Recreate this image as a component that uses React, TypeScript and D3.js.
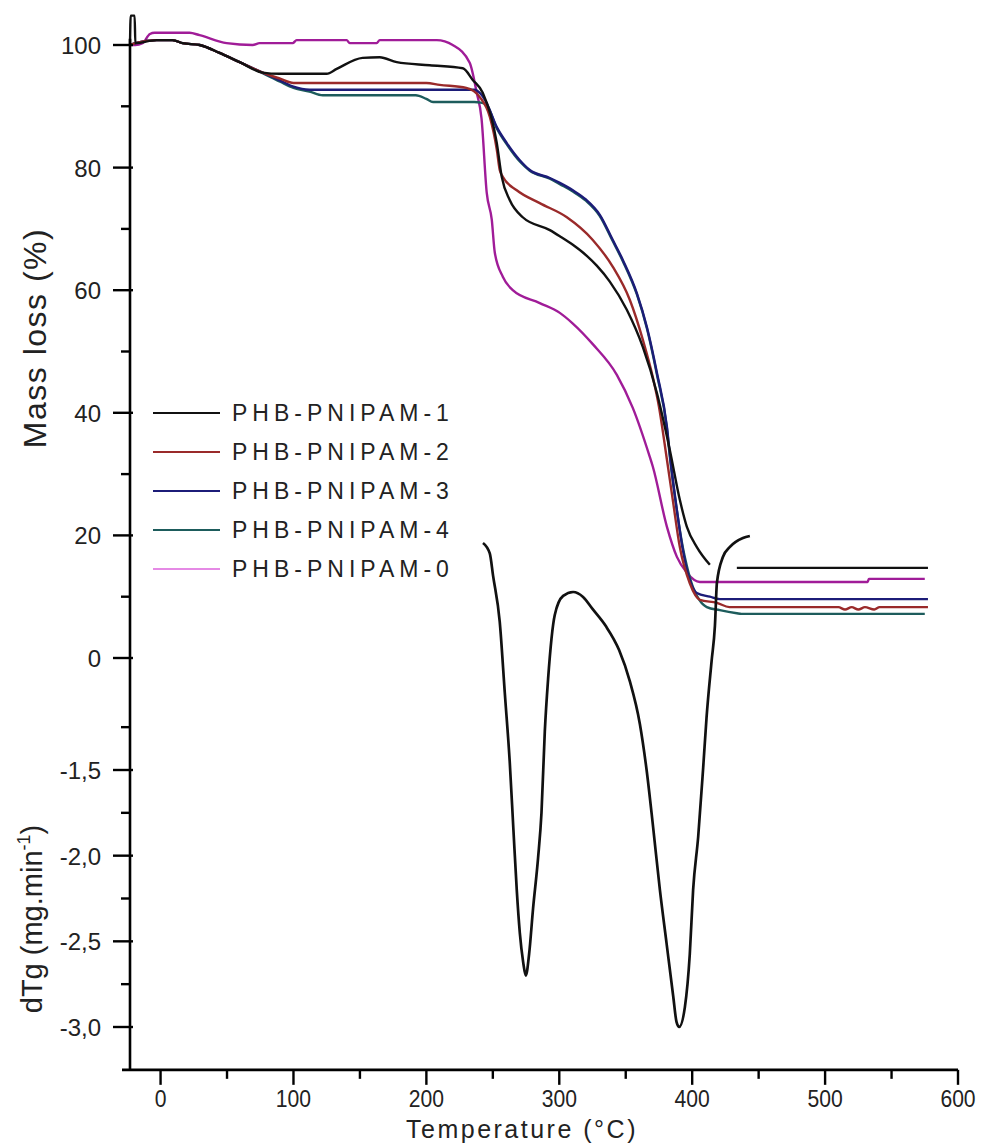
import React from "react";
import * as d3 from "d3";

// TG curves, [temperature °C, mass %]
const tgP1: ([number, number] | null)[] = [
  [-23, 100], [-22.5, 104.8], [-19.5, 104.8], [-19, 100.3], [-3, 100.8], [9, 100.8], [16.6, 100.3],
  [29.4, 100], [44.4, 98.7], [59.5, 97.2], [76.8, 95.5], [89.6, 95.3], [125, 95.3], [132.5, 96.1],
  [152, 97.9], [164.9, 98], [177.7, 97.2], [202.5, 96.7], [227.4, 96.2], [234.9, 94.3], [242.4, 92.2],
  [253, 84], [256.7, 78.5], [262.7, 74.7], [272.5, 71.9], [292.9, 69.8], [300.4, 68.8], [310.2, 67.4],
  [320.7, 65.6], [328.2, 64.0], [338, 61.4], [350.8, 56.8], [362.9, 50.7], [373.5, 43.2], [383.2, 33.9],
  [390.7, 25.8], [396, 21.4], [403.5, 18.1], [413.3, 15.2],
  null,
  [433.6, 14.7], [577.4, 14.7],
];
const tgP2: [number, number][] = [
  [-23, 100], [-19, 100.3], [-3, 100.8], [9, 100.8], [16.6, 100.3], [29.4, 100], [44.4, 98.7],
  [59.5, 97.2], [76.8, 95.5], [90, 94.5], [100, 93.8], [200, 93.8], [210, 93.5], [230, 93.0],
  [240.2, 91.5], [247.7, 88.3], [253, 82.9], [255.2, 79.6], [257.5, 78.5], [268, 76.3], [285.3, 74.2],
  [305.7, 71.9], [325.2, 68.2], [340.3, 63.8], [353.1, 58.4], [362.9, 51.9], [370.4, 45.8], [375, 41],
  [380.9, 32.5], [385.4, 25.8], [390.7, 18.1], [398.2, 12.2], [405.8, 9.5], [418.6, 9.0], [428, 8.3],
  [510, 8.3], [515, 7.9], [520, 8.3], [525, 7.9], [530, 8.3], [537, 7.9], [541, 8.3], [577.4, 8.3],
];
const tgP3: [number, number][] = [
  [-23, 100], [-19, 100.3], [-3, 100.8], [9, 100.8], [16.6, 100.3], [29.4, 100], [44.4, 98.7],
  [59.5, 97.2], [76.8, 95.5], [90, 94.2], [100, 93.2], [112, 92.7], [236, 92.7], [241, 92.0],
  [245.4, 90.5], [253, 86.6], [260.5, 84.0], [270.3, 81.2], [277.8, 79.6], [292.9, 78.3], [300.4, 77.5],
  [310.2, 76.3], [320, 74.8], [330.5, 72.3], [340, 68.3], [347.9, 64.9], [358.4, 59.5], [365.9, 54.0],
  [373.5, 46.5], [381, 37.7], [383.2, 33.2], [388.5, 24.1], [393, 17.6], [398.2, 12.7], [403.5, 10.6],
  [413.3, 10.0], [420.8, 9.6], [577.4, 9.6],
];
const tgP4: [number, number][] = [
  [-23, 100], [-19, 100.3], [-3, 100.8], [9, 100.8], [16.6, 100.3], [29.4, 100], [44.4, 98.7],
  [59.5, 97.2], [76.8, 95.4], [90, 94.0], [100, 93.0], [112, 92.4], [122, 91.8], [192, 91.8],
  [200, 91.2], [205, 90.7], [236, 90.7], [241, 90.6], [245.4, 90.2], [253, 86.4], [260.5, 83.8],
  [270.3, 81.0], [277.8, 79.5], [292.9, 78.2], [300.4, 77.3], [310.2, 76.1], [320, 74.6], [330.5, 72.1],
  [340, 68.1], [347.9, 64.7], [358.4, 59.3], [365.9, 53.8], [373.5, 46.2], [381, 37.4], [383.2, 32.8],
  [388.5, 24], [393, 18], [396, 15], [400.5, 11.6], [405, 9.6], [411, 8.3], [420.8, 7.8], [433.6, 7.3],
  [437, 7.2], [575, 7.2],
];
const tgP0: [number, number][] = [
  [-23, 100], [-19, 100], [-13.6, 100.3], [-8, 101.8], [-4.5, 102], [21.8, 102], [29.4, 101.6],
  [49.7, 100.3], [69.3, 100], [74.5, 100.3], [99.4, 100.3], [102.4, 100.8], [140, 100.8], [142.3, 100.3],
  [162.6, 100.3], [164.9, 100.8], [207.8, 100.8], [219.8, 100], [232.6, 97.1], [237.9, 92.2],
  [241.5, 88], [245.4, 75.9], [249.2, 71.5], [251.5, 66.1], [257.5, 62.2], [265, 60], [285.3, 57.9],
  [300.4, 56.3], [310, 54.6], [325.2, 51.2], [343.3, 46.2], [355.3, 40.8], [368.1, 32.8],
  [370.4, 31.2], [381, 21.4], [388.5, 16.5], [396, 13.9], [405.8, 12.4], [532, 12.4], [533, 12.9],
  [575, 12.9],
];

// DTG curve, [temperature °C, mg/min]
const dtg: [number, number][] = [
  [242.6, -0.175], [247.7, -0.236], [250.2, -0.367], [255.2, -0.636], [259.0, -1.05], [262.7, -1.45],
  [265.5, -1.85], [268, -2.2], [270.3, -2.45], [272.8, -2.62], [274.8, -2.7],
  [277.3, -2.574], [280.3, -2.306], [284.0, -2.017], [286.6, -1.751], [289.1, -1.276], [291.6, -0.967],
  [296.6, -0.595], [302.9, -0.484], [310.4, -0.461], [317.9, -0.49], [325, -0.56], [335, -0.66],
  [345, -0.8], [353, -0.98], [360.6, -1.23], [365.7, -1.5], [370.6, -1.833], [375.7, -2.2], [380.7, -2.51],
  [385.7, -2.819], [388.2, -2.97], [390.2, -3.0], [394.5, -2.884], [398.2, -2.574], [400.7, -2.2],
  [404.5, -1.891], [408.3, -1.483], [410.8, -1.194], [414.6, -0.864], [417.1, -0.659], [418.6, -0.408],
  [423.1, -0.257], [428.4, -0.198], [438.2, -0.146], [443.4, -0.134],
];

const seriesNames = ["PHB-PNIPAM-1", "PHB-PNIPAM-2", "PHB-PNIPAM-3", "PHB-PNIPAM-4", "PHB-PNIPAM-0"];
const seriesColors = ["#111111", "#9a2a2a", "#1c1c78", "#1d5c5c", "#a01c98"];
const legendColors = ["#111111", "#9a2a2a", "#1c1c78", "#1d5c5c", "#e58ae5"];

const xTicks = [0, 100, 200, 300, 400, 500, 600];
const xMinor = [50, 150, 250, 350, 450, 550];
const massTicks = [0, 20, 40, 60, 80, 100];
const massMinor = [10, 30, 50, 70, 90];
const dtgTicks = [-1.5, -2.0, -2.5, -3.0];
const dtgMinor = [-1.25, -1.75, -2.25, -2.75];

const W = 982, H = 1144;
const font = "'Liberation Sans', Arial, sans-serif";

export default function App() {
  const x = d3.scaleLinear().domain([-23, 600]).range([130, 958]);
  const yMass = d3.scaleLinear().domain([0, 100]).range([658, 45]);
  const yDtg = d3.scaleLinear().domain([-1.5, -3.0]).range([770, 1027]);
  const axisX = 130;
  const axisY = yDtg(-3.25);

  const tgLine = d3.line<[number, number] | null>()
    .defined(d => d !== null)
    .x(d => x(d![0]))
    .y(d => yMass(d![1]))
    .curve(d3.curveMonotoneX);
  const dtgLine = d3.line<[number, number]>()
    .x(d => x(d[0]))
    .y(d => yDtg(d[1]))
    .curve(d3.curveMonotoneX);

  const tgSeries = [tgP1, tgP2, tgP3, tgP4, tgP0];
  const drawOrder = [4, 3, 2, 1, 0];
  const fmt = (v: number) => (v === 0 ? "0" : v.toFixed(1).replace(".", ","));

  return (
    <svg width={W} height={H} style={{ position: "absolute", left: 0, top: 0, background: "#fff" }} fontFamily={font}>
      {/* curves */}
      {drawOrder.map(i => (
        <path key={i} d={tgLine(tgSeries[i] as any) || ""} fill="none" stroke={seriesColors[i]} strokeWidth={2.4} strokeLinejoin="round" />
      ))}
      <path d={dtgLine(dtg) || ""} fill="none" stroke="#111" strokeWidth={2.7} strokeLinejoin="round" />

      {/* left axis */}
      <line x1={axisX} x2={axisX} y1={yMass(101)} y2={axisY} stroke="#000" strokeWidth={2.6} />
      {massTicks.map(t => (
        <g key={"m" + t}>
          <line x1={axisX - 17} x2={axisX + 3} y1={yMass(t)} y2={yMass(t)} stroke="#000" strokeWidth={2.4} />
          <text x={101} y={yMass(t) + 9} textAnchor="end" fontSize={24} fill="#222">{t}</text>
        </g>
      ))}
      {massMinor.map(t => (
        <line key={"mm" + t} x1={axisX - 9} x2={axisX} y1={yMass(t)} y2={yMass(t)} stroke="#000" strokeWidth={2.4} />
      ))}
      {dtgTicks.map(t => (
        <g key={"d" + t}>
          <line x1={axisX - 17} x2={axisX + 3} y1={yDtg(t)} y2={yDtg(t)} stroke="#000" strokeWidth={2.4} />
          <text x={101} y={yDtg(t) + 9} textAnchor="end" fontSize={24} fill="#222">{fmt(t)}</text>
        </g>
      ))}
      {dtgMinor.map(t => (
        <line key={"dm" + t} x1={axisX - 9} x2={axisX} y1={yDtg(t)} y2={yDtg(t)} stroke="#000" strokeWidth={2.4} />
      ))}

      {/* bottom axis */}
      <line x1={122} x2={x(600)} y1={axisY} y2={axisY} stroke="#000" strokeWidth={2.6} />
      {xTicks.map(t => (
        <g key={"x" + t}>
          <line x1={x(t)} x2={x(t)} y1={axisY} y2={axisY + 15} stroke="#000" strokeWidth={2.4} />
          <text transform={`translate(${x(t)},${axisY + 37}) scale(0.88,1)`} textAnchor="middle" fontSize={24} fill="#222">{t}</text>
        </g>
      ))}
      {xMinor.map(t => (
        <line key={"xm" + t} x1={x(t)} x2={x(t)} y1={axisY} y2={axisY + 9} stroke="#000" strokeWidth={2.4} />
      ))}

      {/* axis titles */}
      <text transform="translate(522,1138)" textAnchor="middle" fontSize={25} letterSpacing={2.5} fill="#222">Temperature (°C)</text>
      <text transform="translate(46,338) rotate(-90)" textAnchor="middle" fontSize={32} letterSpacing={1.5} fill="#222">Mass loss (%)</text>
      <text transform="translate(42,919) rotate(-90)" textAnchor="middle" fontSize={29} fill="#222">
        dTg (mg.min<tspan fontSize={18} dy={-12}>-1</tspan><tspan dy={12}>)</tspan>
      </text>

      {/* legend */}
      {seriesNames.map((n, i) => {
        const ly = 413 + i * 39;
        return (
          <g key={n}>
            <line x1={153} x2={220} y1={ly} y2={ly} stroke={legendColors[i]} strokeWidth={2.2} />
            <text x={232} y={ly + 8} fontSize={23} letterSpacing={5} fill="#222">{n}</text>
          </g>
        );
      })}
    </svg>
  );
}
